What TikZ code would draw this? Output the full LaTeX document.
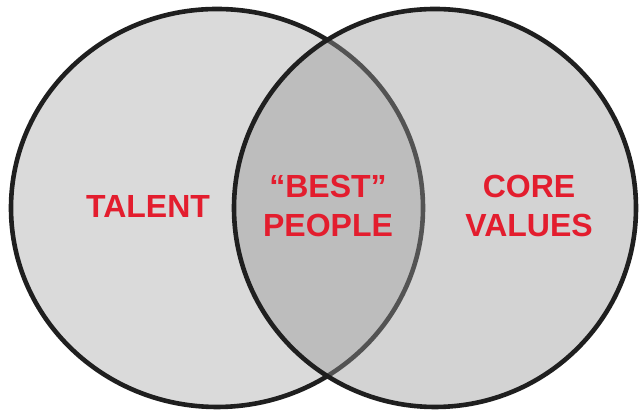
\documentclass[tikz,border=0pt]{standalone}
\usepackage{fontspec}
\setmainfont{Liberation Sans}
\usepackage{xcolor}

\definecolor{venngrey}{RGB}{218,218,218}
\definecolor{overlaygrey}{RGB}{153,153,153}
\definecolor{labelred}{RGB}{227,29,46}

\tikzset{
  ring/.style={line width=4.6pt, draw=black!88},
  label/.style={text=labelred, align=center, inner sep=0pt,
    font=\fontsize{32}{38.5}\selectfont\bfseries}
}

\begin{document}
\begin{tikzpicture}[x=1pt,y=1pt]
\useasboundingbox (0,0) rectangle (641,411);

% Left set
\fill[venngrey] (217,203) ellipse [x radius=206, y radius=199];
\draw[ring] (217,203) ellipse [x radius=206, y radius=199];

% Right set, half see-through so the overlap comes out darker
\fill[overlaygrey, opacity=0.43] (435,203) ellipse [x radius=201, y radius=199];
\draw[ring] (435,203) ellipse [x radius=201, y radius=199];

% Labels
\node[label] (talent) at (148,204) {TALENT};
\node[label] (best) at (328,205) {``BEST''\\PEOPLE};
\node[label] (values) at (529,205) {CORE\\VALUES};

\end{tikzpicture}
\end{document}
